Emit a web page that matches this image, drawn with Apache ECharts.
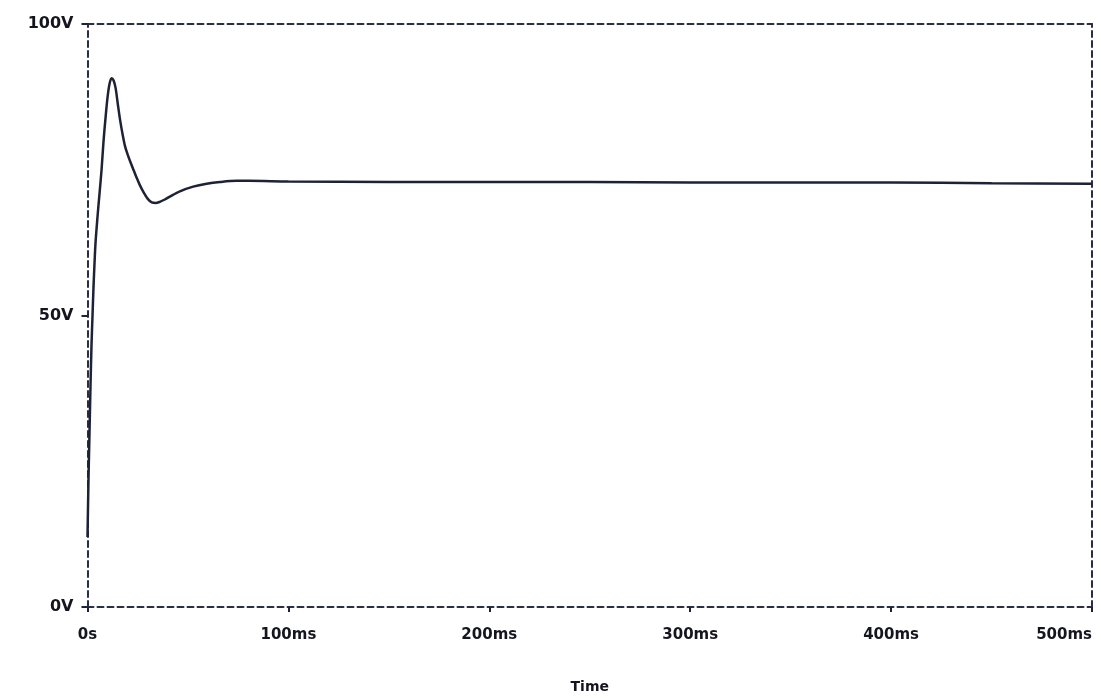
<!DOCTYPE html>
<html>
<head>
<meta charset="utf-8">
<script src="https://cdn.jsdelivr.net/npm/echarts@6/dist/echarts.min.js"></script>
<style>html,body{margin:0;padding:0;background:#fff;}#c{width:1101px;height:699px;}</style>
</head>
<body>
<div id="c"></div>
<script>
// time in ms
const timeMs = [0, 0.5, 1, 1.5, 2, 2.5, 3, 3.5, 4, 5, 6, 7, 8, 9, 10, 11, 12, 13, 14, 15, 16.2, 17.5, 18.7, 20, 21.5, 23, 24.5, 26, 27.8, 30, 32, 34, 36, 38.5, 41, 46, 52.6, 59.3, 66, 74.2, 80, 100, 150, 200, 250, 300, 350, 400, 450, 500];
// voltage in V
const voltage = [12, 22, 30, 38, 45, 50, 55, 59, 62.5, 67, 71, 75, 80, 84, 87.5, 89.8, 90.7, 90.3, 89, 86.5, 83.6, 81, 79, 77.6, 76.2, 74.9, 73.6, 72.4, 71.2, 70, 69.4, 69.3, 69.5, 69.9, 70.4, 71.3, 72.1, 72.6, 72.9, 73.1, 73.1, 73.0, 72.9, 72.9, 72.9, 72.8, 72.8, 72.8, 72.7, 72.6];
const xTicks = [0, 100, 200, 300, 400, 500];
const yTicks = [0, 50, 100];

const points = timeMs.map((t, i) => [t, voltage[i]]);
const ink = '#1e2236';
const labelFont = { color: '#15151f', fontFamily: 'DejaVu Sans', fontWeight: 'bold', fontSize: 15 };
const dashed = { color: '#2a2e45', width: 2, type: [6, 4] };

const chart = echarts.init(document.getElementById('c'), null, { renderer: 'canvas' });
chart.setOption({
  animation: false,
  backgroundColor: '#ffffff',
  grid: { left: 87.5, top: 24, right: 9, bottom: 91, containLabel: false },
  xAxis: [{
    type: 'value', min: 0, max: 500, interval: 100, position: 'bottom',
    axisLine: { show: true, onZero: false, lineStyle: dashed },
    axisTick: { show: true, length: 5, inside: false, lineStyle: { color: ink, width: 2 } },
    splitLine: { show: false },
    axisLabel: Object.assign({ margin: 21, alignMaxLabel: 'right',
      formatter: v => xTicks.includes(v) ? (v === 0 ? '0s' : v + 'ms') : '' }, labelFont),
    name: 'Time', nameLocation: 'middle', nameGap: 73,
    nameTextStyle: Object.assign({}, labelFont, { fontSize: 14 })
  }, {
    type: 'value', min: 0, max: 500, interval: 100, position: 'top',
    axisLine: { show: true, onZero: false, lineStyle: dashed },
    axisTick: { show: false }, axisLabel: { show: false }, splitLine: { show: false }
  }],
  yAxis: [{
    type: 'value', min: 0, max: 100, interval: 50, position: 'left',
    axisLine: { show: true, onZero: false, lineStyle: dashed },
    axisTick: { show: true, length: 6, lineStyle: { color: ink, width: 2 } },
    splitLine: { show: false },
    axisLabel: Object.assign({ margin: 14,
      formatter: v => yTicks.includes(v) ? v + 'V' : '' }, labelFont, { fontSize: 16 })
  }, {
    type: 'value', min: 0, max: 100, interval: 50, position: 'right',
    axisLine: { show: true, onZero: false, lineStyle: dashed },
    axisTick: { show: false }, axisLabel: { show: false }, splitLine: { show: false }
  }],
  series: [{
    type: 'line', data: points, xAxisIndex: 0, yAxisIndex: 0,
    showSymbol: false, smooth: 0.3,
    lineStyle: { color: ink, width: 2.5 }
  }]
});
</script>
</body>
</html>
